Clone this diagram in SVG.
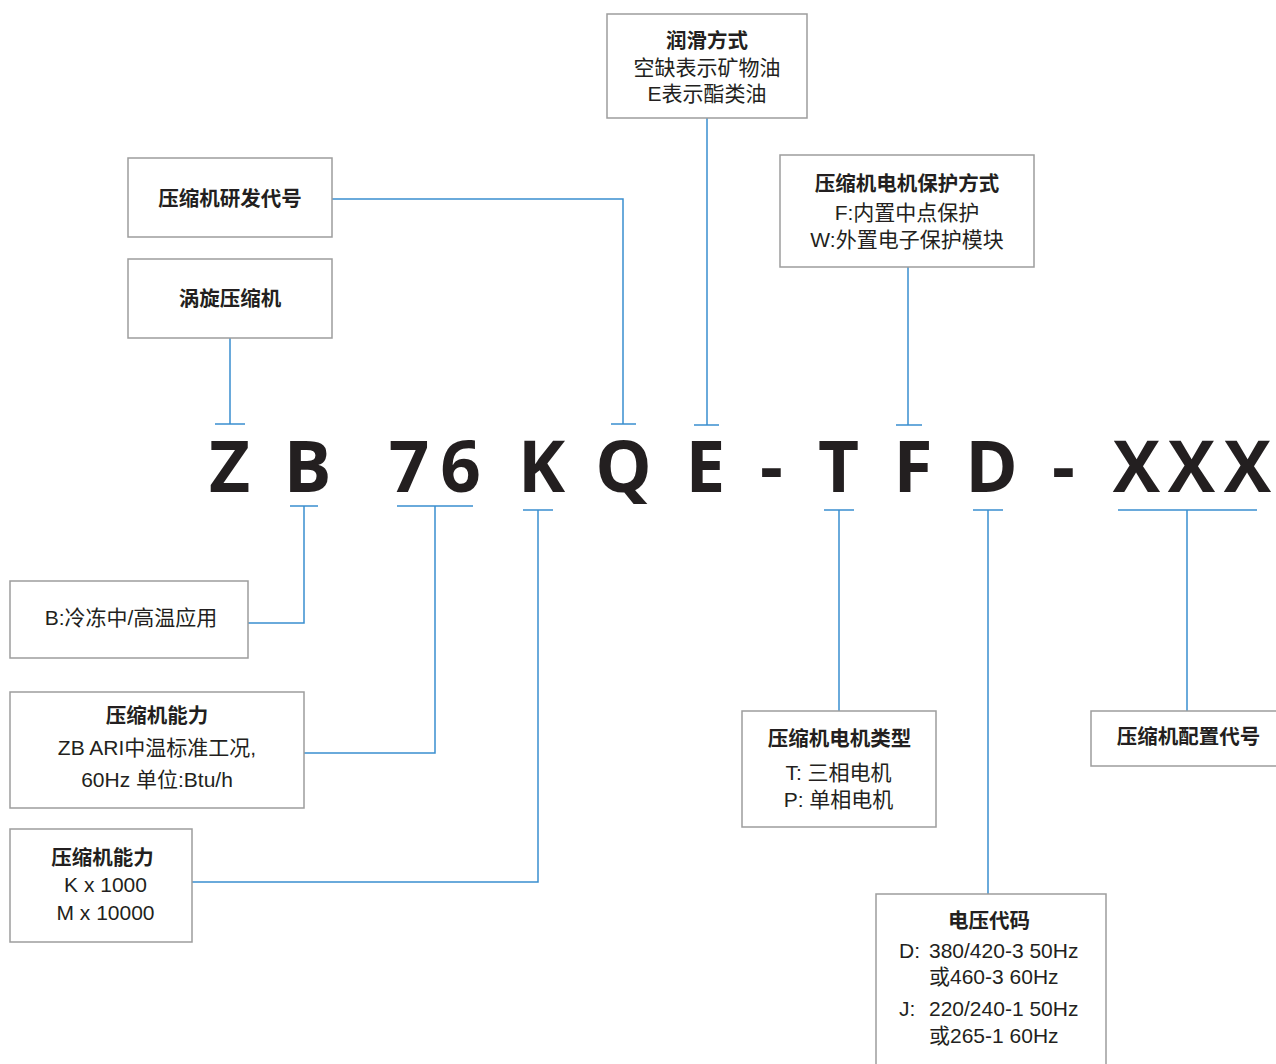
<svg xmlns="http://www.w3.org/2000/svg" width="1276" height="1064" viewBox="0 0 1276 1064">
<style>
.box{fill:#fff;stroke:#9d9d9d;stroke-width:1.5}
.t{font-family:"Liberation Sans","Noto Sans CJK SC",sans-serif;font-size:21px;fill:#231f20}
.b{font-family:"Noto Sans CJK SC",sans-serif;font-size:20.5px;font-weight:700;fill:#231f20}
.c{text-anchor:middle}
.big{font-family:"Open Sans","Noto Sans",sans-serif;font-size:71px;font-weight:700;fill:#231f20;text-anchor:middle}
.ln{fill:none;stroke:#3a8fcf;stroke-width:1.5}
</style>
<rect width="1276" height="1064" fill="#fff"/>
<g id="code">
<text class="big" x="229.5" y="492">Z</text>
<text class="big" x="307.5" y="492">B</text>
<text class="big" x="409" y="492">7</text>
<text class="big" x="460.5" y="492">6</text>
<text class="big" x="541.5" y="492">K</text>
<text class="big" x="623.5" y="492">Q</text>
<text class="big" x="705.5" y="492">E</text>
<text class="big" x="771.5" y="492">-</text>
<text class="big" x="838.5" y="492">T</text>
<text class="big" x="913" y="492">F</text>
<text class="big" x="991.5" y="492">D</text>
<text class="big" x="1063.5" y="492">-</text>
<text class="big" x="1136.5" y="492">X</text>
<text class="big" x="1191.5" y="492">X</text>
<text class="big" x="1247.5" y="492">X</text>
</g>
<g id="connectors">
<path class="ln" d="M230 338V424M215 424H245"/>
<path class="ln" d="M332 199H623V424M611 424H636"/>
<path class="ln" d="M707 118V425M694 425H719"/>
<path class="ln" d="M908 267V425M896 425H922"/>
<path class="ln" d="M290 506H318M304 506V623H248"/>
<path class="ln" d="M397 506H473M435 506V753H304"/>
<path class="ln" d="M523 510H553M538 510V882H192"/>
<path class="ln" d="M824 510H854M839 510V711"/>
<path class="ln" d="M973 510H1003M988 510V894"/>
<path class="ln" d="M1118 510H1257M1187 510V711"/>
</g>
<g id="lubrication">
<rect class="box" x="607" y="14" width="200" height="104"/>
<text class="b c" x="707" y="48">润滑方式</text>
<text class="t c" x="707" y="75">空缺表示矿物油</text>
<text class="t c" x="707" y="101">E表示酯类油</text>
</g>
<g id="dev-code">
<rect class="box" x="128" y="158" width="204" height="79"/>
<text class="b c" x="230" y="206">压缩机研发代号</text>
</g>
<g id="scroll">
<rect class="box" x="128" y="259" width="204" height="79"/>
<text class="b c" x="230" y="306">涡旋压缩机</text>
</g>
<g id="protection">
<rect class="box" x="780" y="155" width="254" height="112"/>
<text class="b c" x="907" y="191">压缩机电机保护方式</text>
<text class="t c" x="907" y="220">F:内置中点保护</text>
<text class="t c" x="907" y="247">W:外置电子保护模块</text>
</g>
<g id="application">
<rect class="box" x="10" y="581" width="238" height="77"/>
<text class="t c" x="131" y="625">B:冷冻中/高温应用</text>
</g>
<g id="capacity">
<rect class="box" x="10" y="692" width="294" height="116"/>
<text class="b c" x="157" y="723">压缩机能力</text>
<text class="t c" x="157" y="755">ZB ARI中温标准工况,</text>
<text class="t c" x="157" y="787">60Hz 单位:Btu/h</text>
</g>
<g id="multiplier">
<rect class="box" x="10" y="829" width="182" height="113"/>
<text class="b c" x="102.5" y="865">压缩机能力</text>
<text class="t c" x="105.5" y="892">K x 1000</text>
<text class="t c" x="105.5" y="920">M x 10000</text>
</g>
<g id="motor-type">
<rect class="box" x="742" y="711" width="194" height="116"/>
<text class="b c" x="839.5" y="746">压缩机电机类型</text>
<text class="t c" x="838.5" y="780">T: 三相电机</text>
<text class="t c" x="838.5" y="807">P: 单相电机</text>
</g>
<g id="config">
<rect class="box" x="1091" y="711" width="190" height="55"/>
<text class="b c" x="1188.5" y="744">压缩机配置代号</text>
</g>
<g id="voltage">
<rect class="box" x="876" y="894" width="230" height="175"/>
<text class="b c" x="989" y="928">电压代码</text>
<text class="t" x="899" y="958">D:</text>
<text class="t" x="929" y="958">380/420-3 50Hz</text>
<text class="t" x="929" y="984">或460-3 60Hz</text>
<text class="t" x="899" y="1016">J:</text>
<text class="t" x="929" y="1016">220/240-1 50Hz</text>
<text class="t" x="929" y="1043">或265-1 60Hz</text>
</g>
</svg>
